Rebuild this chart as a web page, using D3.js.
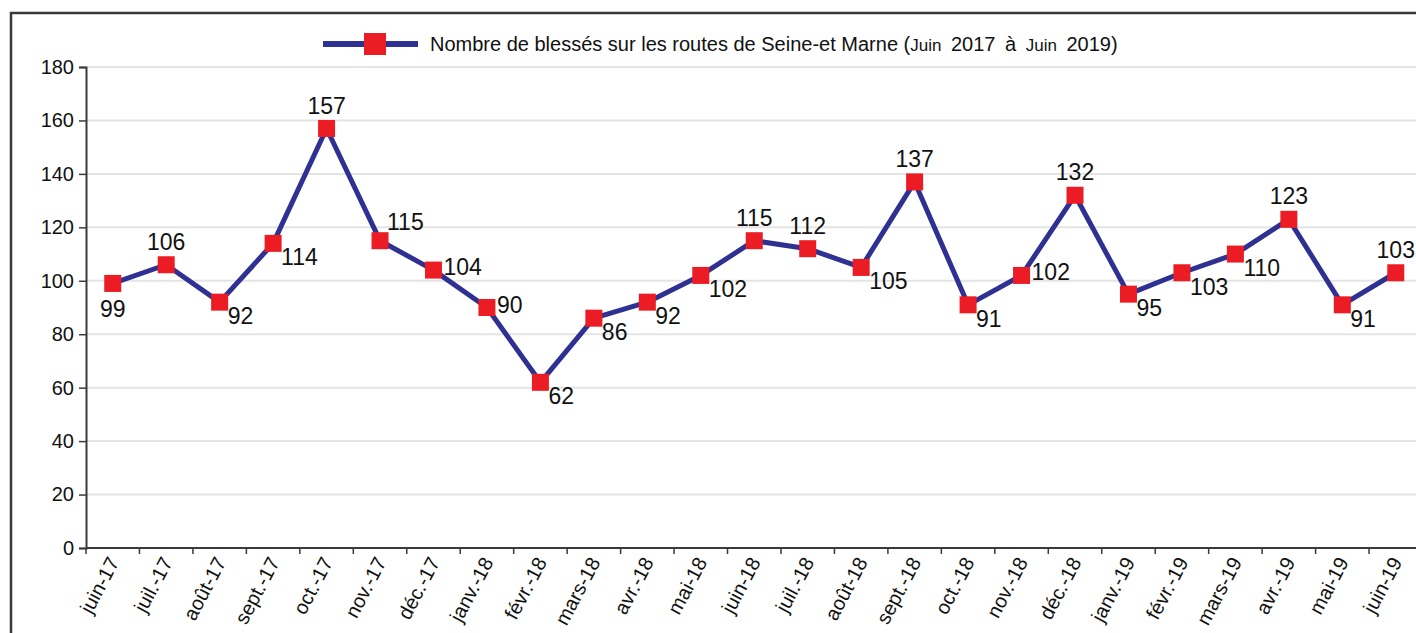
<!DOCTYPE html>
<html>
<head>
<meta charset="utf-8">
<script src="https://cdn.jsdelivr.net/npm/d3@7"></script>
<style>
  html, body { margin: 0; padding: 0; background: #fff; overflow: hidden; }
  svg { display: block; font-family: "Liberation Sans", Arial, sans-serif; }
</style>
</head>
<body>
<script>
const months = ['juin-17', 'juil.-17', 'août-17', 'sept.-17', 'oct.-17', 'nov.-17', 'déc.-17',
    'janv.-18', 'févr.-18', 'mars-18', 'avr.-18', 'mai-18', 'juin-18', 'juil.-18', 'août-18',
    'sept.-18', 'oct.-18', 'nov.-18', 'déc.-18', 'janv.-19', 'févr.-19', 'mars-19', 'avr.-19',
    'mai-19', 'juin-19'];
const injured = [99, 106, 92, 114, 157, 115, 104, 90, 62, 86, 92, 102, 115, 112, 105, 137,
    91, 102, 132, 95, 103, 110, 123, 91, 103];
const yTicks = [0, 20, 40, 60, 80, 100, 120, 140, 160, 180];
const legendTitle = 'Nombre de blessés sur les routes de Seine-et Marne';
const legendPeriod = ['(', 'Juin', ' 2017 à ', 'Juin', ' 2019)'];

// where each value label sits relative to its marker
const labelPlacement = ['b', 'a', 'br', 'br', 'a', 'ar', 'r', 'r', 'br', 'br', 'br', 'br', 'a',
    'a', 'br', 'a', 'br', 'r', 'a', 'br', 'br', 'br', 'a', 'br', 'a'];

const W = 1416, H = 633;
const margin = {left: 86, top: 67, bottom: 85};
const step = 53.46;
const lineColor = '#2e3192';
const markerColor = '#ec1c24';

const svg = d3.select('body').append('svg')
    .attr('width', W)
    .attr('height', H);

// frame around the chart (runs off the right and bottom edge)
svg.append('rect')
    .attr('x', 11).attr('y', 13)
    .attr('width', W + 20).attr('height', H + 20)
    .attr('fill', 'none')
    .attr('stroke', '#3a3a3a')
    .attr('stroke-width', 2.5);

const x = d3.scaleBand()
    .domain(months)
    .range([margin.left, margin.left + step * months.length])
    .padding(0);

const y = d3.scaleLinear()
    .domain([0, 180])
    .range([H - margin.bottom, margin.top]);

// gridlines
svg.append('g').classed('grid', true)
    .selectAll('line')
    .data(yTicks.filter(d => d > 0))
    .enter()
    .append('line')
    .attr('x1', margin.left).attr('x2', W)
    .attr('y1', d => y(d)).attr('y2', d => y(d))
    .style('stroke', '#e4e4e4')
    .style('stroke-width', '2px');

// y axis
const yAxis = svg.append('g')
    .attr('transform', `translate(${margin.left},0)`)
    .call(d3.axisLeft(y).tickValues(yTicks).tickSize(7).tickPadding(5));
yAxis.select('.domain').attr('stroke', '#3a3a3a').attr('stroke-width', 2);
yAxis.selectAll('.tick line').attr('stroke', '#3a3a3a').attr('stroke-width', 1.5);
yAxis.selectAll('.tick text')
    .style('font-size', '20px')
    .style('font-family', '"Liberation Sans", Arial, sans-serif')
    .attr('fill', '#111');

// x axis, ticks on the band edges
const xAxis = svg.append('g').attr('transform', `translate(0,${y(0)})`);
xAxis.append('line')
    .attr('x1', margin.left).attr('x2', W)
    .attr('stroke', '#3a3a3a').attr('stroke-width', 2);
xAxis.selectAll('.xtick')
    .data(months)
    .enter()
    .append('line')
    .attr('x1', d => x(d)).attr('x2', d => x(d))
    .attr('y1', 0).attr('y2', 6)
    .attr('stroke', '#3a3a3a').attr('stroke-width', 1.5);
xAxis.selectAll('.xlabel')
    .data(months)
    .enter()
    .append('text')
    .text(d => d)
    .attr('text-anchor', 'end')
    .style('font-size', '20px')
    .attr('fill', '#111')
    .attr('transform', d => `translate(${x(d) + x.bandwidth() / 2 + 7},${14}) rotate(-62)`);

// line + markers
const cx = (d, i) => x(months[i]) + x.bandwidth() / 2;
const line = d3.line()
    .x(cx)
    .y(d => y(d));

svg.append('path')
    .datum(injured)
    .attr('d', line)
    .attr('fill', 'none')
    .attr('stroke', lineColor)
    .attr('stroke-width', 5)
    .attr('stroke-linejoin', 'round');

const ms = 17;
svg.append('g').classed('markers', true)
    .selectAll('rect')
    .data(injured)
    .enter()
    .append('rect')
    .attr('x', (d, i) => cx(d, i) - ms / 2)
    .attr('y', d => y(d) - ms / 2)
    .attr('width', ms).attr('height', ms)
    .attr('fill', markerColor);

// value labels
const placement = {
    a: {anchor: 'middle', dx: 0, dy: -23},
    b: {anchor: 'middle', dx: 0, dy: 25},
    r: {anchor: 'start', dx: 10, dy: -3},
    br: {anchor: 'start', dx: 8, dy: 14},
    ar: {anchor: 'start', dx: 7, dy: -19}
};
svg.append('g').classed('labels', true)
    .selectAll('text')
    .data(injured)
    .enter()
    .append('text')
    .text(d => d)
    .attr('text-anchor', (d, i) => placement[labelPlacement[i]].anchor)
    .attr('x', (d, i) => cx(d, i) + placement[labelPlacement[i]].dx)
    .attr('y', (d, i) => y(d) + placement[labelPlacement[i]].dy)
    .attr('dy', '0.35em')
    .style('font-size', '23px')
    .attr('fill', '#111');

// legend
const legend = svg.append('g').classed('legend', true);
legend.append('line')
    .attr('x1', 323).attr('x2', 418)
    .attr('y1', 44).attr('y2', 44)
    .attr('stroke', lineColor).attr('stroke-width', 6);
legend.append('rect')
    .attr('x', 364).attr('y', 33)
    .attr('width', 22).attr('height', 22)
    .attr('fill', markerColor);
const legendText = legend.append('text')
    .attr('x', 430).attr('y', 51)
    .style('font-size', '20px')
    .attr('fill', '#111');
legendText.append('tspan').text(legendTitle + ' ');
legendPeriod.forEach(s => {
    legendText.append('tspan')
        .text(s)
        .style('font-size', s === 'Juin' ? '17px' : '20px')
        .style('word-spacing', '4px');
});
</script>
</body>
</html>
